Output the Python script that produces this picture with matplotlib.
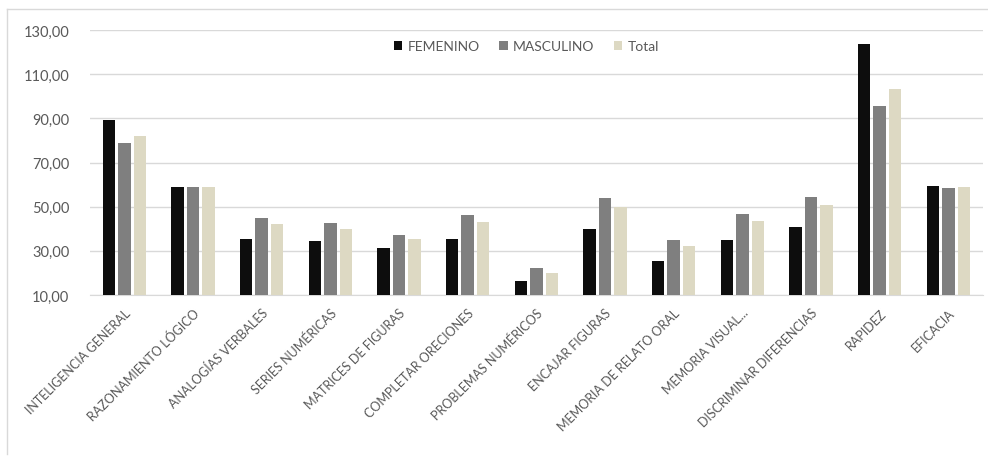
import numpy as np
import matplotlib.pyplot as plt
from matplotlib.lines import Line2D
from matplotlib.ticker import FuncFormatter

# Puntuaciones medias por prueba y sexo
pruebas = [
    "INTELIGENCIA GENERAL", "RAZONAMIENTO LÓGICO", "ANALOGÍAS VERBALES",
    "SERIES NUMÉRICAS", "MATRICES DE FIGURAS", "COMPLETAR ORECIONES",
    "PROBLEMAS NUMÉRICOS", "ENCAJAR FIGURAS", "MEMORIA DE RELATO ORAL",
    "MEMORIA VISUAL...", "DISCRIMINAR DIFERENCIAS", "RAPIDEZ", "EFICACIA",
]
femenino = [89.4, 58.9, 35.5, 34.3, 31.1, 35.4, 16.3, 39.9, 25.3, 34.9, 40.7, 123.7, 59.5]
masculino = [78.7, 58.9, 44.9, 42.5, 37.3, 46.2, 22.1, 53.8, 34.9, 46.8, 54.4, 95.7, 58.3]
total = [81.9, 58.9, 42.3, 39.9, 35.4, 43.1, 20.1, 49.9, 32.3, 43.7, 50.6, 103.3, 58.8]

plt.rcParams["font.family"] = ["Lato", "DejaVu Sans"]
texto = "#595959"

fig = plt.figure(figsize=(9.88, 4.6), dpi=100)
ax = fig.add_axes([0.0911, 0.3565, 0.9035, 0.576])

x = np.arange(len(pruebas))
ancho = 0.18
paso = 0.226
ax.bar(x - paso, femenino, ancho, color="#0d0d0d", label="FEMENINO", zorder=3)
ax.bar(x, masculino, ancho, color="#7f7f7f", label="MASCULINO", zorder=3)
ax.bar(x + paso, total, ancho, color="#ddd9c3", label="Total", zorder=3)

ax.set_ylim(10, 130)
ax.set_xlim(-0.5, len(pruebas) - 0.5)
ax.set_yticks(range(10, 131, 20))
ax.yaxis.set_major_formatter(FuncFormatter(lambda v, p: f"{v:.2f}".replace(".", ",")))
ax.grid(axis="y", color="#d9d9d9", linewidth=1, zorder=0)

ax.set_xticks(x)
ax.set_xticklabels(pruebas, rotation=45, ha="right", rotation_mode="anchor",
                   fontsize=9, color=texto)
ax.tick_params(axis="x", length=0, pad=8)
ax.tick_params(axis="y", length=0, pad=15, labelsize=10.5, labelcolor=texto)

for lado in ["top", "right", "left"]:
    ax.spines[lado].set_visible(False)
ax.spines["bottom"].set_color("#d9d9d9")

ax.legend(loc="upper center", bbox_to_anchor=(0.489, 1.008), ncol=3, frameon=False,
          fontsize=10, handlelength=0.6, handleheight=0.6, handletextpad=0.4,
          columnspacing=1.4, labelcolor=texto)

# marco exterior del gráfico
fig.add_artist(Line2D([0.007, 1.0], [0.978, 0.978], color="#d9d9d9", linewidth=1))
fig.add_artist(Line2D([0.007, 0.007], [0.01, 0.978], color="#d9d9d9", linewidth=1))

fig.savefig("out.png", dpi=100)
